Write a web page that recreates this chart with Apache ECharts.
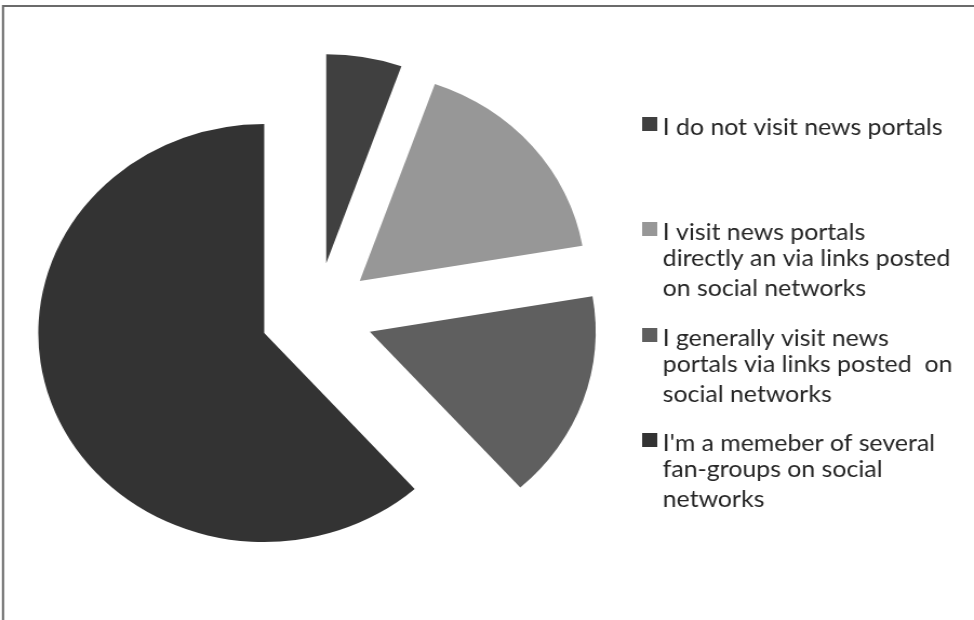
<!DOCTYPE html>
<html>
<head>
<meta charset="utf-8">
<script src="https://cdn.jsdelivr.net/npm/echarts@6/dist/echarts.min.js"></script>
<style>
  html, body { margin: 0; padding: 0; background: #ffffff; overflow: hidden; }
  #wrap { width: 974px; height: 620px; overflow: hidden; position: relative; }
  /* the chart is laid out in a narrower box and widened, giving the oval pie */
  #chart { width: 901px; height: 620px; transform: scaleX(1.081); transform-origin: 0 0; }
</style>
</head>
<body>
<div id="wrap"><div id="chart"></div></div>
<script>
// Survey answers, one entry per legend row (each row split into its printed lines)
const categories = [
  ['I do not visit news portals'],
  ['I visit news portals', 'directly an via links posted', 'on social networks'],
  ['I generally visit news', 'portals via links posted  on', 'social networks'],
  ["I'm a memeber of several", 'fan-groups on social', 'networks']
];
// Share of respondents, percent
const shares = [5.4, 16.9, 16.1, 61.6];
const sliceColors = ['#404040', '#979797', '#5f5f5f', '#333333'];

const LINE_H = 30;
const names = categories.map(lines => lines.join(' '));
// Rich-text legend label: the first line carries top padding so that the
// square marker sits level with the first line rather than the middle one.
const labelByName = {};
names.forEach((n, i) => {
  const lines = categories[i];
  labelByName[n] = lines.map((l, k) => (k === 0 ? '{first|' : '{rest|') + l + '}').join('\n');
});

const legendTops = [104, 149, 255, 360];

const chart = echarts.init(document.getElementById('chart'), null, { renderer: 'canvas' });

const legends = names.map((n, i) => {
  const pad = (categories[i].length - 1) * LINE_H;
  const base = { fontFamily: 'Lato', fontSize: 23, lineHeight: LINE_H, color: '#262626' };
  return {
    data: [n],
    orient: 'vertical',
    left: 589,
    top: legendTops[i],
    itemWidth: 14,
    itemHeight: 14,
    icon: 'rect',
    selectedMode: false,
    formatter: name => labelByName[name],
    textStyle: Object.assign({}, base, {
      rich: {
        first: Object.assign({}, base, { lineHeight: LINE_H + pad, padding: [pad, 0, 0, 0], verticalAlign: 'bottom' }),
        rest: Object.assign({}, base)
      }
    })
  };
});

chart.setOption({
  animation: false,
  color: sliceColors,
  graphic: [{
    type: 'rect',
    shape: { x: 2.8, y: 6, width: 1200, height: 1200 },
    style: { fill: 'none', stroke: '#6b6b6b', lineWidth: 2 },
    silent: true
  }],
  legend: legends,
  series: [{
    type: 'pie',
    center: [293, 314.5],
    radius: 209,
    startAngle: 90,
    clockwise: true,
    selectedMode: 'multiple',
    selectedOffset: 52,
    label: { show: false },
    labelLine: { show: false },
    emphasis: { disabled: true },
    itemStyle: { borderWidth: 0 },
    data: names.map((n, i) => ({ name: n, value: shares[i], selected: true }))
  }]
});
</script>
</body>
</html>
